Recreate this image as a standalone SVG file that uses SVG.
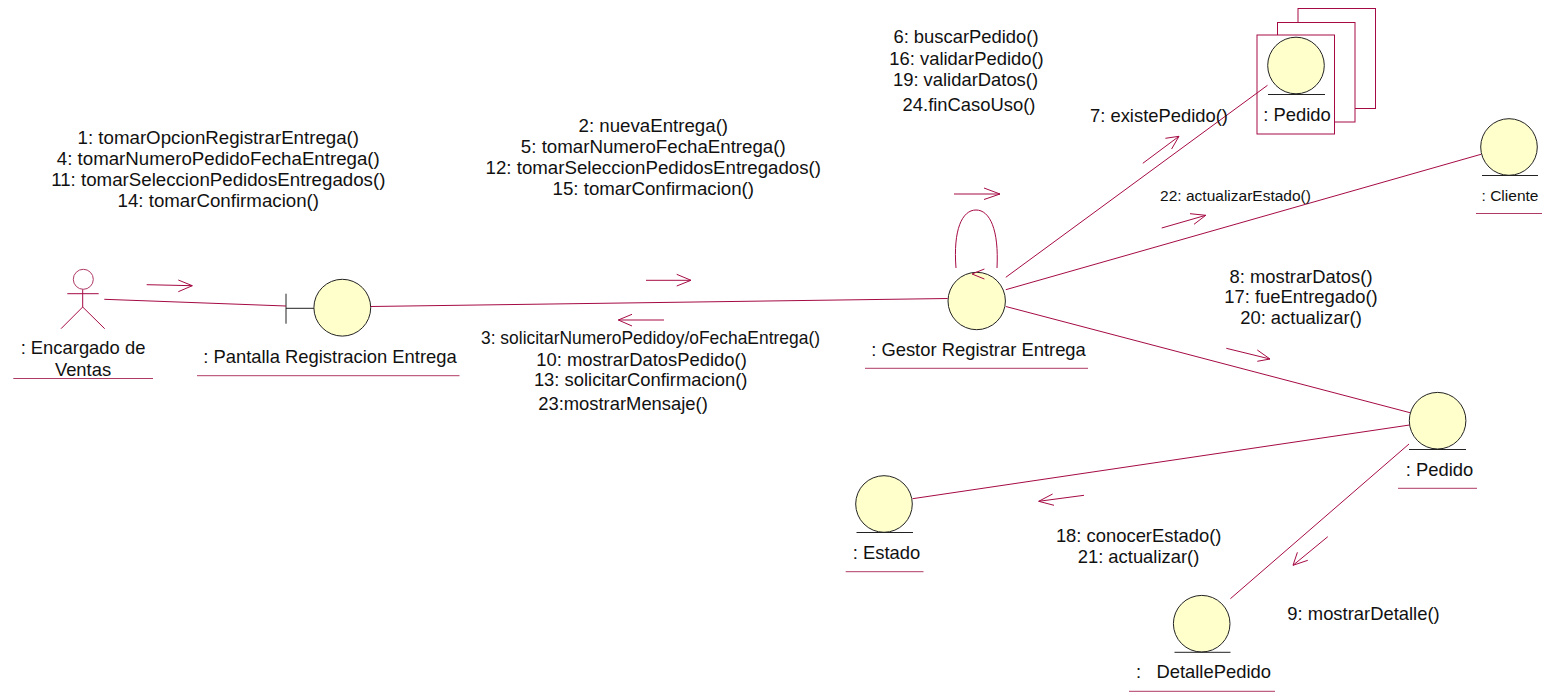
<svg xmlns="http://www.w3.org/2000/svg" width="1544" height="692" viewBox="0 0 1544 692">
<style>
text{font-family:"Liberation Sans",Arial,sans-serif;font-size:18.4px;fill:#111;text-anchor:middle}
.s{font-size:15.5px}
.w{font-size:18.7px}
.c{fill:#ffffcc;stroke:#222;stroke-width:1}
.b{stroke:#222;stroke-width:1;fill:none}
.l,.u,.r{stroke:#a50a44;stroke-width:1;fill:none}
.u{stroke:#b03a66}
.r{fill:#fff}
</style>
<rect width="1544" height="692" fill="#fff"/>
<g id="actor-encargado">
<circle cx="83.3" cy="279.3" r="10" fill="#fff" stroke="#b03a66"/>
<path class="l" d="M67.3 293.7H98.7M82.7 289.5V307L61 328.7M82.7 307L104.7 328.7"/>
<text x="83" y="354">: Encargado de</text>
<text x="83" y="376">Ventas</text>
<path class="u" d="M13.3 378.5H153"/>
</g>
<g id="pantalla">
<path class="b" d="M286 293.7V323.7M286 308.3H314"/>
<circle class="c" cx="342.3" cy="307.7" r="28.4"/>
<text x="330" y="363">: Pantalla Registracion Entrega</text>
<path class="u" d="M197 375.7H459.5"/>
</g>
<g id="gestor">
<circle class="c" cx="976.7" cy="301" r="28.7"/>
<text x="978.5" y="356">: Gestor Registrar Entrega</text>
<path class="u" d="M865 368.3H1088"/>
</g>
<g id="pedido-multi">
<rect class="r" x="1298" y="8.5" width="77.5" height="100"/>
<rect class="r" x="1277.5" y="22.5" width="77.5" height="99.5"/>
<rect class="r" x="1257" y="35" width="77.5" height="99"/>
<circle class="c" cx="1296" cy="65.5" r="28.3"/>
<path class="b" d="M1268 94.5H1325"/>
<text x="1297" y="121">: Pedido</text>
</g>
<g id="cliente">
<circle class="c" cx="1509" cy="147" r="28.3"/>
<path class="b" d="M1482 175.5H1538"/>
<text class="s" x="1510" y="201">: Cliente</text>
<path class="u" d="M1476 213.5H1542"/>
</g>
<g id="pedido">
<circle class="c" cx="1437.6" cy="420.7" r="28.3"/>
<path class="b" d="M1409 449.5H1466"/>
<text x="1439.6" y="476">: Pedido</text>
<path class="u" d="M1398 488.3H1477"/>
</g>
<g id="estado">
<circle class="c" cx="884" cy="504" r="28.3"/>
<path class="b" d="M856.5 532.5H913"/>
<text x="886.5" y="559">: Estado</text>
<path class="u" d="M845.7 571.7H923.5"/>
</g>
<g id="detalle">
<circle class="c" cx="1201.7" cy="623.7" r="28.3"/>
<path class="b" d="M1174.5 652.3H1230.5"/>
<text x="1136" y="678" style="text-anchor:start;white-space:pre" xml:space="preserve">:   DetallePedido</text>
<path class="u" d="M1129 691.3H1275"/>
</g>
<g id="connectors">
<path class="l" d="M104.3 299.3L286 306M370.7 306.5L947.7 298.5M1005.8 277.3L1267.5 85.3M1005.8 289.7L1481 154.3M1005.8 306.5L1410 412.7M1409.6 425L912.6 498.7M1409 444L1230.4 598.7"/>
<path class="l" d="M956 268C953 230 962 210 976 210C990 210 999 230 997 268"/>
<path class="l" d="M984.4 269L972 274L984.4 279"/>
<path class="l" d="M146.7 284.7L192.3 285.7M178.3 280L192.3 285.7L178.3 291.7"/>
<path class="l" d="M646 280.3H691M676.7 274.3L691 280.3L676.7 286"/>
<path class="l" d="M664 320H618.3M632 314.3L618.3 320L632 326"/>
<path class="l" d="M954 194H1000M984 188L1000 194L984 199.5"/>
<path class="l" d="M1142.8 163.3L1179 136.3M1165.4 138.3L1179 136.3L1171.6 149"/>
<path class="l" d="M1161.7 228L1205.8 215.3M1190 213.7L1205.8 215.3L1194 224.3"/>
<path class="l" d="M1226.3 348.3L1270 359M1257.3 350L1270 359L1257.3 361.3"/>
<path class="l" d="M1084 495.3L1038.7 501.3M1052.6 494L1038.7 501.3L1054 505.3"/>
<path class="l" d="M1327.8 536.7L1293 565.3M1297.4 552.3L1293 565.3L1307.8 560.3"/>
</g>
<g id="labels">
<text class="w" x="218.3" y="144">1: tomarOpcionRegistrarEntrega()</text>
<text class="w" x="218.3" y="164.7">4: tomarNumeroPedidoFechaEntrega()</text>
<text class="w" x="218.3" y="185.7">11: tomarSeleccionPedidosEntregados()</text>
<text class="w" x="218.3" y="207">14: tomarConfirmacion()</text>
<text class="w" x="653.3" y="132.3">2: nuevaEntrega()</text>
<text class="w" x="653.3" y="153.3">5: tomarNumeroFechaEntrega()</text>
<text class="w" x="653.3" y="174">12: tomarSeleccionPedidosEntregados()</text>
<text class="w" x="653.3" y="195">15: tomarConfirmacion()</text>
<text x="650.5" y="344.3" textLength="339" lengthAdjust="spacingAndGlyphs">3: solicitarNumeroPedidoy/oFechaEntrega()</text>
<text x="641.5" y="365.7">10: mostrarDatosPedido()</text>
<text x="640.7" y="386">13: solicitarConfirmacion()</text>
<text x="623" y="410">23:mostrarMensaje()</text>
<text x="966" y="42.7">6: buscarPedido()</text>
<text x="966.5" y="65">16: validarPedido()</text>
<text x="965.5" y="86">19: validarDatos()</text>
<text x="969" y="111">24.finCasoUso()</text>
<text x="1159" y="121.7">7: existePedido()</text>
<text class="s" x="1235.5" y="201">22: actualizarEstado()</text>
<text x="1301" y="283">8: mostrarDatos()</text>
<text x="1301" y="303.3">17: fueEntregado()</text>
<text x="1301" y="324.3">20: actualizar()</text>
<text x="1138.7" y="542.3">18: conocerEstado()</text>
<text x="1138.5" y="563">21: actualizar()</text>
<text x="1363.5" y="620">9: mostrarDetalle()</text>
</g>
</svg>
